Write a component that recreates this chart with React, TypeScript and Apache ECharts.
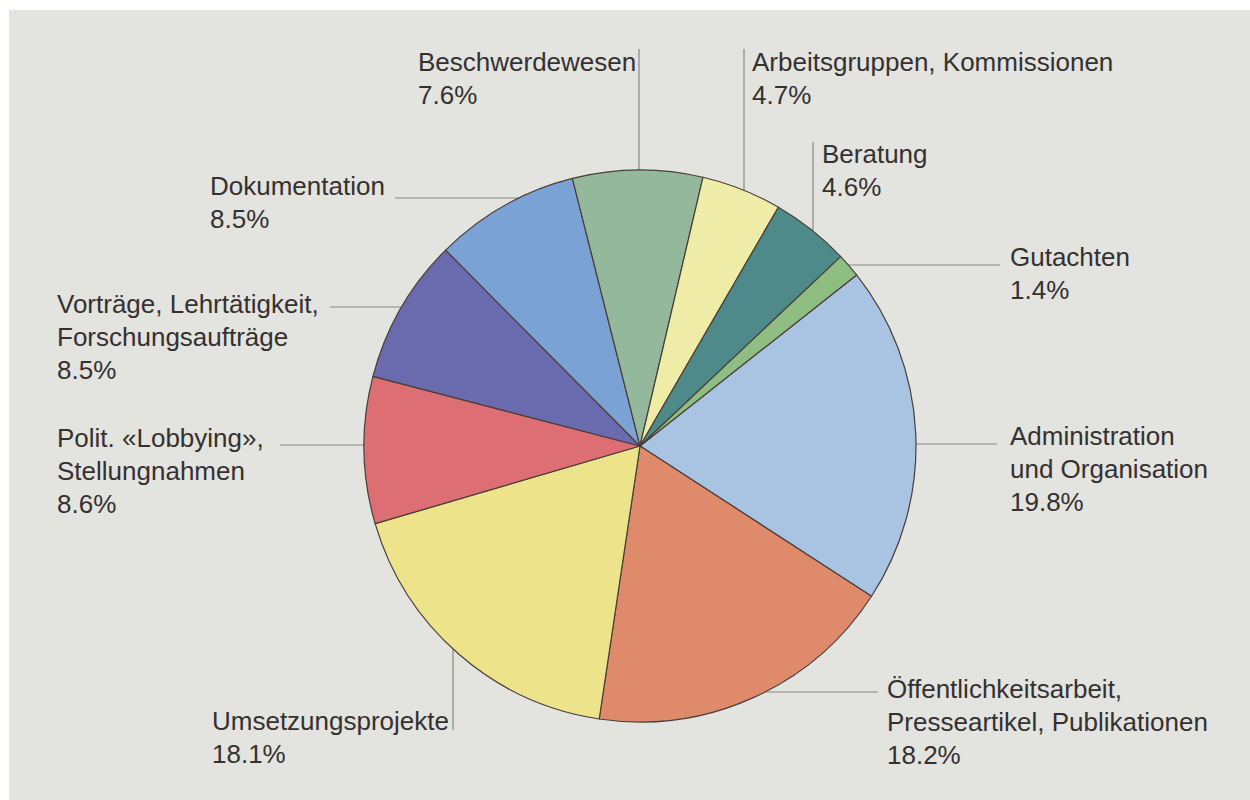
import React, { useEffect, useRef } from "react";
import * as echarts from "echarts";

const categories = [
  "Administration\nund Organisation",
  "Öffentlichkeitsarbeit,\nPresseartikel, Publikationen",
  "Umsetzungsprojekte",
  "Polit. «Lobbying»,\nStellungnahmen",
  "Vorträge, Lehrtätigkeit,\nForschungsaufträge",
  "Dokumentation",
  "Beschwerdewesen",
  "Arbeitsgruppen, Kommissionen",
  "Beratung",
  "Gutachten",
];
const values = [19.8, 18.2, 18.1, 8.6, 8.5, 8.5, 7.6, 4.7, 4.6, 1.4];
const colors = [
  "#a8c4e2",
  "#e08a6c",
  "#ece38a",
  "#dc6e74",
  "#6a6aae",
  "#7aa2d4",
  "#94b89c",
  "#efeca8",
  "#4e8a8a",
  "#8ebe82",
];

// layout of labels (top-left of text block) and leader lines
const CX = 640;
const CY = 446;
const R = 276;
const labelPos: [number, number][] = [
  [1010, 419],
  [887, 672],
  [212, 704],
  [57, 421],
  [57, 287],
  [210, 169],
  [418, 45],
  [752, 45],
  [822, 137],
  [1010, 240],
];
// dir h: horizontal line at y = at, ending at x = end; dir v: vertical line at x = at, ending at y = end
const leaders: { dir: "h" | "v"; at: number; end: number }[] = [
  { dir: "h", at: 444, end: 997 },
  { dir: "h", at: 692, end: 878 },
  { dir: "v", at: 453, end: 730 },
  { dir: "h", at: 445, end: 280 },
  { dir: "h", at: 307, end: 330 },
  { dir: "h", at: 198, end: 395 },
  { dir: "v", at: 639, end: 49 },
  { dir: "v", at: 744, end: 49 },
  { dir: "v", at: 813, end: 142 },
  { dir: "h", at: 265, end: 1000 },
];

function leaderPoints(i: number): number[][] {
  const l = leaders[i];
  if (l.dir === "h") {
    const dx = Math.sqrt(Math.max(0, R * R - (l.at - CY) * (l.at - CY)));
    const x0 = l.end > CX ? CX + dx : CX - dx;
    return [
      [x0, l.at],
      [(x0 + l.end) / 2, l.at],
      [l.end, l.at],
    ];
  }
  const dy = Math.sqrt(Math.max(0, R * R - (l.at - CX) * (l.at - CX)));
  const y0 = l.end < CY ? CY - dy : CY + dy;
  return [
    [l.at, y0],
    [l.at, (y0 + l.end) / 2],
    [l.at, l.end],
  ];
}

export default function App() {
  const ref = useRef<HTMLDivElement>(null);
  useEffect(() => {
    if (!ref.current) return;
    const chart = echarts.init(ref.current, null, { renderer: "svg" });
    chart.setOption({
      animation: false,
      backgroundColor: "#ffffff",
      graphic: [
        {
          type: "rect",
          z: -10,
          silent: true,
          shape: { x: 9, y: 10, width: 1241, height: 790 },
          style: { fill: "#e3e3df" },
        },
      ],
      series: [
        {
          type: "pie",
          center: [CX, CY],
          radius: [0, R],
          startAngle: 38.3,
          clockwise: true,
          avoidLabelOverlap: false,
          itemStyle: { borderColor: "#4a3e38", borderWidth: 1.2 },
          emphasis: { disabled: true },
          label: {
            show: true,
            position: "outside",
            fontFamily: "Liberation Sans, Arial, sans-serif",
            fontSize: 26,
            lineHeight: 33,
            color: "#353130",
            formatter: (p: any) => `${p.name}\n${p.value.toFixed(1)}%`,
          },
          labelLine: {
            show: true,
            lineStyle: { color: "#8a8784", width: 1.2 },
          },
          labelLayout: (p: any) => ({
            x: labelPos[p.dataIndex][0],
            y: labelPos[p.dataIndex][1],
            align: "left",
            verticalAlign: "top",
            labelLinePoints: leaderPoints(p.dataIndex),
          }),
          data: categories.map((c, i) => ({
            name: c,
            value: values[i],
            itemStyle: { color: colors[i] },
          })),
        },
      ],
    });
    return () => chart.dispose();
  }, []);
  return (
    <div
      ref={ref}
      style={{ position: "fixed", left: 0, top: 0, width: 1250, height: 800 }}
    />
  );
}
